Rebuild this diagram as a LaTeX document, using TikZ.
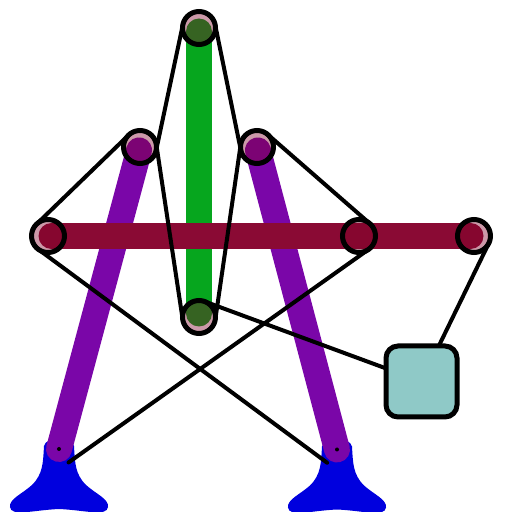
\documentclass[tikz,border=0pt]{standalone}
\usepackage{tikz}
\usepackage{xcolor}
\usetikzlibrary{calc}

\definecolor{linkgreen}{RGB}{6,166,30}
\definecolor{linkpurple}{RGB}{122,6,168}
\definecolor{linkred}{RGB}{138,10,52}
\definecolor{groundblue}{RGB}{0,0,222}
\definecolor{jointred}{RGB}{128,0,40}
\definecolor{boxteal}{RGB}{143,201,199}

\pgfdeclarelayer{back}
\pgfdeclarelayer{ropes}
\pgfsetlayers{back,ropes,main}

\tikzset{
  joint/.style={circle, draw=black, line width=0.1cm, fill=jointred, fill opacity=0.4, minimum size=0.66cm, inner sep=0pt, outer sep=0pt},
  link/.style={line width=0.52cm, line cap=round},
  cable/.style={line width=0.08cm, line cap=round},
  anchordot/.style={circle, fill=black, minimum size=0.08cm, inner sep=0pt, outer sep=0pt},
  weight/.style={rectangle, rounded corners=0.24cm, draw=black, line width=0.1cm, fill=boxteal, minimum size=1.42cm}
}

\begin{document}
\begin{tikzpicture}
\clip (0cm,0cm) rectangle (10.24cm,10.24cm);

% joints
\node [joint] (top) at (3.98cm,9.68cm) {};
\node [joint] (upl) at (2.80cm,7.30cm) {};
\node [joint] (upr) at (5.14cm,7.30cm) {};
\node [joint] (midl) at (0.96cm,5.52cm) {};
\node [joint] (midr) at (7.18cm,5.52cm) {};
\node [joint] (farr) at (9.48cm,5.52cm) {};
\node [joint] (low) at (3.98cm,3.90cm) {};

\coordinate (gndl) at (1.18cm,1.26cm);
\coordinate (gndr) at (6.74cm,1.25cm);
\coordinate (wc) at (8.43cm,2.61cm);

\begin{pgfonlayer}{back}
% ground pieces
\foreach \g in {gndl,gndr}
  \fill [groundblue, shift={(\g)}, x=0.02cm, y=-0.02cm] (-15,-3)
    .. controls (-16,14) and (-16,25) .. (-27,36)
    .. controls (-37,45) and (-50,50) .. (-49,58)
    .. controls (-48,68) and (-25,61) .. (0,60)
    .. controls (25,61) and (48,68) .. (49,58)
    .. controls (50,50) and (37,45) .. (27,36)
    .. controls (16,25) and (16,14) .. (15,-3)
    .. controls (13,-13) and (-13,-13) .. cycle;

% links
\draw [link, color=linkgreen, shorten <=0.07cm, shorten >=0.07cm] (top.center) -- (low.center);
\draw [link, color=linkpurple, shorten <=0.07cm] (upl.center) -- (gndl);
\draw [link, color=linkpurple, shorten <=0.07cm] (upr.center) -- (gndr);
\draw [link, color=linkred, shorten <=0.07cm, shorten >=0.07cm] (midl.center) -- (farr.center);
\end{pgfonlayer}

\begin{pgfonlayer}{ropes}
\coordinate (m1) at ($(top)!0.5!(upl)$);
\coordinate (m2) at ($(top)!0.5!(upr)$);
\coordinate (m3) at ($(upl)!0.5!(low)$);
\coordinate (m4) at ($(upr)!0.5!(low)$);
\coordinate (c1) at (tangent cs:node=top,point={(m1)},solution=2);
\coordinate (c2) at (tangent cs:node=top,point={(m2)},solution=1);
\coordinate (c3) at (tangent cs:node=upl,point={(m3)},solution=1);
\coordinate (c4) at (tangent cs:node=upr,point={(m4)},solution=2);
\draw [cable] (c1) -- ($(c1)!2!(m1)$);
\draw [cable] (c2) -- ($(c2)!2!(m2)$);
\draw [cable] (c3) -- ($(c3)!2!(m3)$);
\draw [cable] (c4) -- ($(c4)!2!(m4)$);

\draw [cable] ($(midl)!0.33cm!90:(upl)$) -- ($(upl)!0.33cm!-90:(midl)$);
\draw [cable] ($(midr)!0.33cm!-90:(upr)$) -- ($(upr)!0.33cm!90:(midr)$);
\draw [cable] ($(midl)!0.33cm!-90:(gndr)$) -- ($(gndr)!0.33cm!90:(midl)$);
\draw [cable] ($(midr)!0.33cm!90:(gndl)$) -- ($(gndl)!0.33cm!-90:(midr)$);

\draw [cable] (tangent cs:node=low,point={(wc)},solution=1) -- (wc);
\draw [cable] (tangent cs:node=farr,point={(wc)},solution=1) -- (wc);
\end{pgfonlayer}

\node [weight] (wbox) at (wc) {};
\node [anchordot] (dotl) at (gndl) {};
\node [anchordot] (dotr) at (gndr) {};

\end{tikzpicture}
\end{document}
